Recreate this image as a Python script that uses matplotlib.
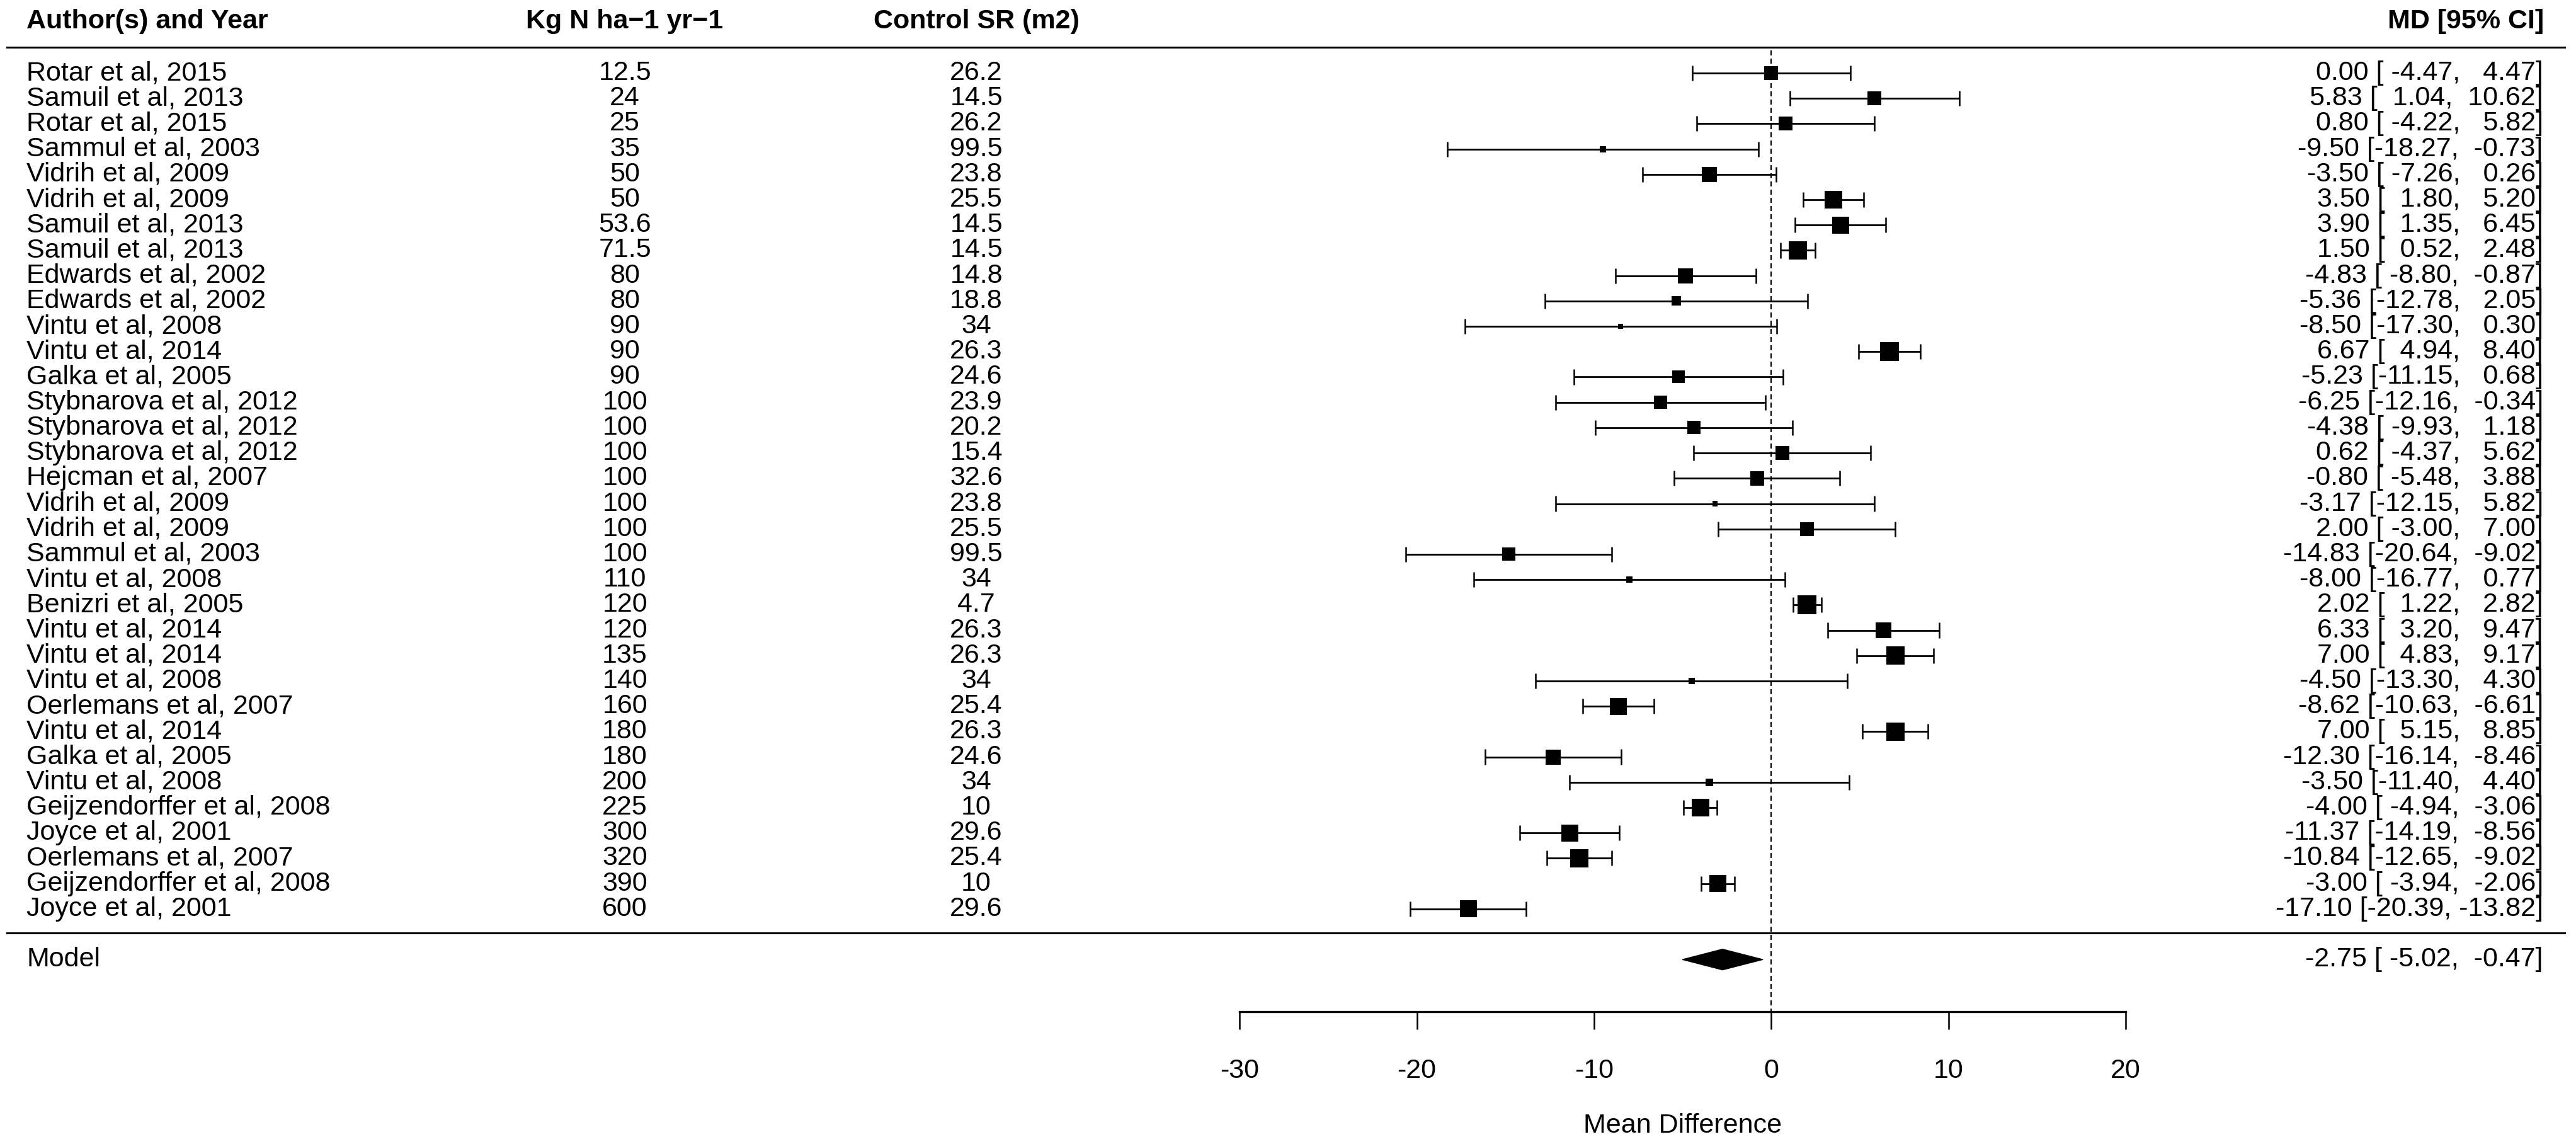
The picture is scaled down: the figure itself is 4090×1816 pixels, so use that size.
import numpy as np
import matplotlib
matplotlib.use('Agg')
import matplotlib.pyplot as plt
from matplotlib.transforms import blended_transform_factory
from matplotlib.patches import Polygon

plt.rcParams['font.family'] = ['Liberation Sans', 'DejaVu Sans']
plt.rcParams['axes.unicode_minus'] = False

# study data, top to bottom
authors = ['Rotar et al, 2015', 'Samuil et al, 2013', 'Rotar et al, 2015', 'Sammul et al, 2003',
           'Vidrih et al, 2009', 'Vidrih et al, 2009', 'Samuil et al, 2013', 'Samuil et al, 2013',
           'Edwards et al, 2002', 'Edwards et al, 2002', 'Vintu et al, 2008', 'Vintu et al, 2014',
           'Galka et al, 2005', 'Stybnarova et al, 2012', 'Stybnarova et al, 2012',
           'Stybnarova et al, 2012', 'Hejcman et al, 2007', 'Vidrih et al, 2009', 'Vidrih et al, 2009',
           'Sammul et al, 2003', 'Vintu et al, 2008', 'Benizri et al, 2005', 'Vintu et al, 2014',
           'Vintu et al, 2014', 'Vintu et al, 2008', 'Oerlemans et al, 2007', 'Vintu et al, 2014',
           'Galka et al, 2005', 'Vintu et al, 2008', 'Geijzendorffer et al, 2008', 'Joyce et al, 2001',
           'Oerlemans et al, 2007', 'Geijzendorffer et al, 2008', 'Joyce et al, 2001']
kg_n = [12.5, 24, 25, 35, 50, 50, 53.6, 71.5, 80, 80, 90, 90, 90, 100, 100, 100, 100, 100, 100,
        100, 110, 120, 120, 135, 140, 160, 180, 180, 200, 225, 300, 320, 390, 600]
control_sr = [26.2, 14.5, 26.2, 99.5, 23.8, 25.5, 14.5, 14.5, 14.8, 18.8, 34, 26.3, 24.6, 23.9,
              20.2, 15.4, 32.6, 23.8, 25.5, 99.5, 34, 4.7, 26.3, 26.3, 34, 25.4, 26.3, 24.6, 34,
              10, 29.6, 25.4, 10, 29.6]
md = [0.00, 5.83, 0.80, -9.50, -3.50, 3.50, 3.90, 1.50, -4.83, -5.36, -8.50, 6.67, -5.23, -6.25,
      -4.38, 0.62, -0.80, -3.17, 2.00, -14.83, -8.00, 2.02, 6.33, 7.00, -4.50, -8.62, 7.00,
      -12.30, -3.50, -4.00, -11.37, -10.84, -3.00, -17.10]
ci_lo = [-4.47, 1.04, -4.22, -18.27, -7.26, 1.80, 1.35, 0.52, -8.80, -12.78, -17.30, 4.94, -11.15,
         -12.16, -9.93, -4.37, -5.48, -12.15, -3.00, -20.64, -16.77, 1.22, 3.20, 4.83, -13.30,
         -10.63, 5.15, -16.14, -11.40, -4.94, -14.19, -12.65, -3.94, -20.39]
ci_hi = [4.47, 10.62, 5.82, -0.73, 0.26, 5.20, 6.45, 2.48, -0.87, 2.05, 0.30, 8.40, 0.68, -0.34,
         1.18, 5.62, 3.88, 5.82, 7.00, -9.02, 0.77, 2.82, 9.47, 9.17, 4.30, -6.61, 8.85, -8.46,
         4.40, -3.06, -8.56, -9.02, -2.06, -13.82]
# relative study weights
weights = [2.93, 2.93, 2.93, 1.33, 3.19, 3.72, 3.59, 3.79, 3.19, 1.99, 1.06, 3.99, 2.66, 2.79,
           2.79, 2.99, 2.99, 1.13, 2.93, 2.79, 1.33, 3.99, 3.32, 3.79, 1.33, 3.59, 3.79, 3.19,
           1.60, 3.79, 3.59, 3.79, 3.59, 3.59]

model_md, model_lo, model_hi = -2.75, -5.02, -0.47
xticks = [-30, -20, -10, 0, 10, 20]

FS = 31
LW = 2.2

fig = plt.figure(figsize=(40.91, 18.16), dpi=100)
ax = fig.add_axes([0.4811, 0.11564, 0.3439, 0.88436])
n = len(authors)
rows = np.arange(n)
model_row = n + 1

ax.set_xlim(-30, 20)
ax.set_ylim(37.06, -2.886)
trans = blended_transform_factory(fig.transFigure, ax.transData)

# CI lines with end caps
ax.hlines(rows, ci_lo, ci_hi, color='black', lw=2.0)
ax.vlines(ci_lo, rows - 0.3, rows + 0.3, color='black', lw=1.8)
ax.vlines(ci_hi, rows - 0.3, rows + 0.3, color='black', lw=1.8)

# boxes sized by weight
w = np.array(weights)
side_pt = 30 * w / w.max() * 0.72
ax.scatter(md, rows, marker='s', s=side_pt ** 2, c='black', linewidths=0, zorder=3)

# summary diamond
ax.add_patch(Polygon([(model_lo, model_row), (model_md, model_row - 0.41),
                      (model_hi, model_row), (model_md, model_row + 0.41)],
                     closed=True, color='black', zorder=3))

# reference line at 0
ax.plot([0, 0], [-0.9, 37.06], color='black', lw=1.44, ls=(0, (4, 2.5)), clip_on=False)

# horizontal rules
for yy in [-1.02, n - 0.04]:
    ax.plot([0.0027, 0.9954], [yy, yy], transform=trans, color='black', lw=LW, clip_on=False)

# headers
hy = -2.05
ax.text(0.01027, hy, 'Author(s) and Year', transform=trans, ha='left', va='center',
        fontsize=FS, fontweight='bold')
ax.text(0.2425, hy, 'Kg N ha\u22121 yr\u22121', transform=trans, ha='center', va='center',
        fontsize=FS, fontweight='bold')
ax.text(0.3789, hy, 'Control SR (m2)', transform=trans, ha='center', va='center',
        fontsize=FS, fontweight='bold')
ax.text(0.9872, hy, 'MD [95% CI]', transform=trans, ha='right', va='center',
        fontsize=FS, fontweight='bold')

# study rows
for i in range(n):
    ax.text(0.01027, i, authors[i], transform=trans, ha='left', va='center', fontsize=FS)
    ax.text(0.2425, i, f'{kg_n[i]:g}', transform=trans, ha='center', va='center', fontsize=FS)
    ax.text(0.3789, i, f'{control_sr[i]:g}', transform=trans, ha='center', va='center', fontsize=FS)
    ax.text(0.9870, i, f'{md[i]:.2f} [{ci_lo[i]:6.2f}, {ci_hi[i]:6.2f}]', transform=trans,
            ha='right', va='center', fontsize=FS)

ax.text(0.01027, model_row, 'Model', transform=trans, ha='left', va='center', fontsize=FS)
ax.text(0.9870, model_row, f'{model_md:.2f} [{model_lo:6.2f}, {model_hi:6.2f}]',
        transform=trans, ha='right', va='center', fontsize=FS)

# x axis
for s in ['top', 'left', 'right']:
    ax.spines[s].set_visible(False)
ax.spines['bottom'].set_bounds(-30, 20)
ax.spines['bottom'].set_linewidth(2.4)
ax.set_yticks([])
ax.set_xticks(xticks)
ax.set_xticklabels([str(t) for t in xticks])
ax.tick_params(axis='x', length=20, width=1.8, pad=33, labelsize=FS)
ax.set_xlabel('Mean Difference', fontsize=FS, labelpad=34)
ax.patch.set_visible(False)

fig.savefig('out.png', dpi=100)
